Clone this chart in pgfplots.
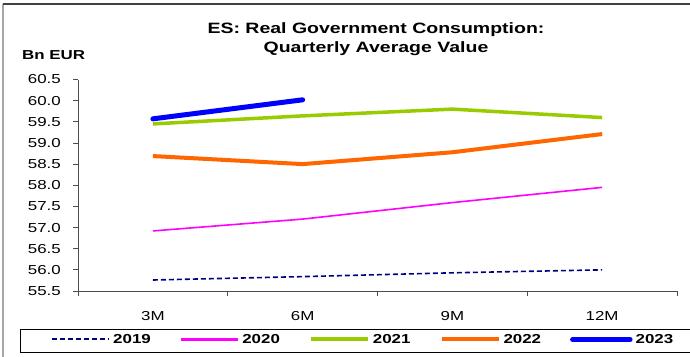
\documentclass[border=0pt]{standalone}
\usepackage{pgfplots}
\pgfplotsset{compat=1.18}
\usepackage{fontspec}
\setmainfont{Liberation Sans}[FakeStretch=1.3]
\definecolor{c19}{HTML}{000080}
\definecolor{c20}{HTML}{FF00FF}
\definecolor{c21}{HTML}{99CC00}
\definecolor{c22}{HTML}{FF6600}
\definecolor{c23}{HTML}{0000FF}
\begin{document}
\begin{tikzpicture}[x=1bp,y=1bp]
\useasboundingbox (0,0) rectangle (690,356);
\clip (0,0) rectangle (690,356);
\fill[white] (0,0) rectangle (690,356);
\draw[black!35, line width=1.2bp] (3,-5) -- (3,352);
\draw[black!75, line width=1.2bp] (3,352) -- (700,352);
\node[font=\fontsize{15bp}{19bp}\selectfont\bfseries, align=center] at (376,317) {ES: Real Government Consumption:\\Quarterly Average Value};
\node[font=\fontsize{13bp}{15bp}\selectfont\bfseries, anchor=west, inner sep=0] at (22,301) {Bn EUR};
\draw[black, line width=0.8bp] (20,4) rectangle (697,27);
\begin{axis}[
  at={(78bp,65bp)}, anchor=south west, scale only axis,
  width=599bp, height=211.5bp,
  xmin=0.5, xmax=4.5, ymin=55.5, ymax=60.5,
  axis x line*=bottom, axis y line*=left,
  axis line style={black!70, line width=0.8bp},
  tick style={black!70, line width=0.8bp},
  tick align=outside, major tick length=5bp, minor tick length=5bp,
  xtick={1,2,3,4}, xticklabels={3M,6M,9M,12M},
  major x tick style={opacity=0},
  minor xtick={0.5,1.5,2.5,3.5,4.5},
  ytick={55.5,56,56.5,57,57.5,58,58.5,59,59.5,60,60.5},
  /pgf/number format/assume math mode=true,
  ticklabel style={font=\fontsize{13bp}{15bp}\selectfont},
  yticklabel style={/pgf/number format/fixed, /pgf/number format/fixed zerofill, /pgf/number format/precision=1},
  yticklabel style={anchor=east, inner sep=0pt, xshift=-12bp},
  xticklabel style={anchor=center, inner sep=0pt, yshift=-20bp},
  legend columns=5,
  legend style={at={(axis description cs:-0.0968,-0.1797)}, anchor=north west,
    draw=none, fill=none, inner xsep=31bp, inner ysep=5bp,
    font=\fontsize{13bp}{15bp}\selectfont\bfseries,
    nodes={inner sep=0pt},
    /tikz/every odd column/.append style={column sep=3bp},
    /tikz/every even column/.append style={column sep=29bp}},
]
\addplot[color=c19, line width=1.6bp, dash pattern=on 5bp off 3bp,
  legend image code/.code={\draw[draw=c19, line width=2bp, dash pattern=on 5bp off 3bp] (0bp,0bp) -- (57bp,0bp);}]
  coordinates {(1,55.76) (2,55.84) (3,55.93) (4,56.00)};
\addlegendentry{2019}
\addplot[color=c20, line width=1.6bp,
  legend image code/.code={\draw[draw=c20, line width=2.5bp] (0bp,0bp) -- (57bp,0bp);}]
  coordinates {(1,56.92) (2,57.20) (3,57.59) (4,57.95)};
\addlegendentry{2020}
\addplot[color=c21, line width=3.5bp,
  legend image code/.code={\draw[draw=c21, line width=4bp] (0bp,0bp) -- (57bp,0bp);}]
  coordinates {(1,59.45) (2,59.64) (3,59.80) (4,59.60)};
\addlegendentry{2021}
\addplot[color=c22, line width=4bp,
  legend image code/.code={\draw[draw=c22, line width=4bp] (0bp,0bp) -- (57bp,0bp);}]
  coordinates {(1,58.69) (2,58.50) (3,58.78) (4,59.21)};
\addlegendentry{2022}
\addplot[color=c23, line width=5bp, line cap=round,
  legend image code/.code={\draw[draw=c23, line width=5.5bp, line cap=round] (0bp,0bp) -- (57bp,0bp);}]
  coordinates {(1,59.57) (2,60.02)};
\addlegendentry{2023}
\end{axis}
\end{tikzpicture}
\end{document}
